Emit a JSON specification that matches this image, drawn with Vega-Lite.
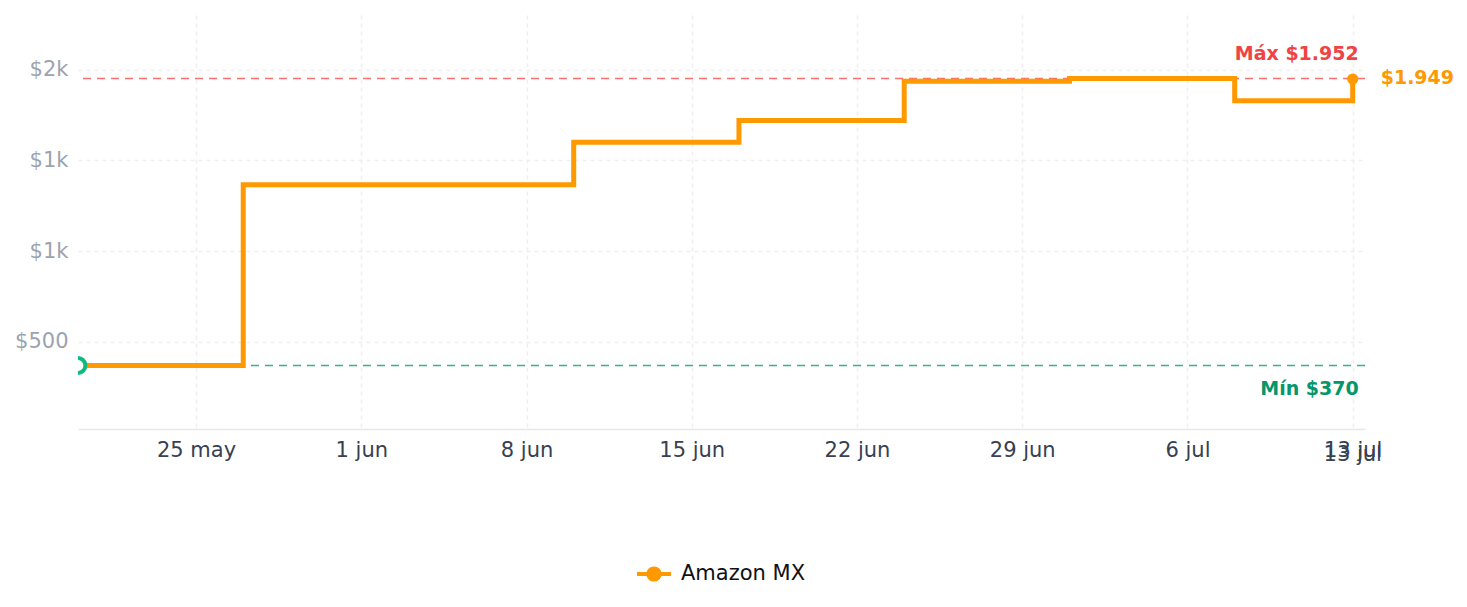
{
  "$schema": "https://vega.github.io/schema/vega-lite/v6.json",
  "width": 1287,
  "height": 414,
  "autosize": {"type": "none"},
  "padding": {"left": 78, "top": 15, "right": 102, "bottom": 178},
  "config": {
    "font": "DejaVu Sans",
    "view": {"stroke": null},
    "axisX": {
      "grid": true, "gridDash": [4, 4], "gridColor": "#efefef", "gridWidth": 1.5,
      "domainColor": "#e5e7eb", "domainWidth": 1.5, "ticks": false,
      "labelColor": "#374151", "labelFontSize": 21, "labelPadding": 10, "title": null
    },
    "axisY": {
      "grid": true, "gridDash": [4, 4], "gridColor": "#efefef", "gridWidth": 1.5,
      "domain": false, "ticks": false,
      "labelColor": "#9ca3af", "labelFontSize": 21, "labelPadding": 10, "title": null
    },
    "legend": {
      "orient": "none", "legendX": 557, "legendY": 540, "direction": "horizontal",
      "labelFontSize": 21, "labelColor": "#111111", "title": null,
      "symbolSize": 1156, "symbolStrokeWidth": 4,
      "symbolType": "M-1,0H1M-0.33,0A0.33,0.33,0,1,0,0.33,0A0.33,0.33,0,1,0,-0.33,0Z",
      "symbolFillColor": "#ff9900", "symbolStrokeColor": "#ff9900", "labelOffset": 8
    }
  },
  "layer": [
    {
      "data": {"values": [{"price": 370}]},
      "mark": {"type": "rule", "color": "#34b38a", "strokeDash": [8, 6], "strokeWidth": 1.5},
      "encoding": {
        "y": {"field": "price", "type": "quantitative", "scale": {"domain": [20, 2302], "nice": false, "zero": false}, "axis": {"values": [500, 1000, 1500, 2000], "labelExpr": "datum.value >= 1000 ? '$' + floor(datum.value / 1000) + 'k' : '$' + datum.value"}}
      }
    },
    {
      "data": {"values": [{"price": 1952}]},
      "mark": {"type": "rule", "color": "#f87171", "strokeDash": [8, 6], "strokeWidth": 1.5},
      "encoding": {
        "y": {"field": "price", "type": "quantitative", "scale": {"domain": [20, 2302], "nice": false, "zero": false}}
      }
    },
    {
      "data": {"values": [
        {"date": "2025-05-20", "price": 370, "store": "Amazon MX"},
        {"date": "2025-05-27", "price": 1366, "store": "Amazon MX"},
        {"date": "2025-06-10", "price": 1600, "store": "Amazon MX"},
        {"date": "2025-06-17", "price": 1721, "store": "Amazon MX"},
        {"date": "2025-06-24", "price": 1937, "store": "Amazon MX"},
        {"date": "2025-07-01", "price": 1952, "store": "Amazon MX"},
        {"date": "2025-07-08", "price": 1830, "store": "Amazon MX"},
        {"date": "2025-07-13", "price": 1949, "store": "Amazon MX"}
      ]},
      "mark": {"type": "line", "interpolate": "step-after", "strokeWidth": 5},
      "encoding": {
        "x": {"field": "date", "type": "temporal", "scale": {"type": "utc", "domain": ["2025-05-20T00:00:00Z", "2025-07-13T12:30:00Z"], "nice": false},
          "axis": {"tickCount": {"interval": "week", "step": 1}, "labelExpr": "utcdate(datum.value) + ' ' + ['ene','feb','mar','abr','may','jun','jul','ago','sep','oct','nov','dic'][utcmonth(datum.value)]"}},
        "y": {"field": "price", "type": "quantitative", "scale": {"domain": [20, 2302], "nice": false, "zero": false}},
        "color": {"field": "store", "type": "nominal", "scale": {"domain": ["Amazon MX"], "range": ["#ff9900"]}}
      }
    },
    {
      "data": {"values": [{"date": "2025-05-20", "price": 370}]},
      "mark": {"type": "point", "filled": true, "fill": "#ffffff", "stroke": "#10b981", "strokeWidth": 4, "size": 220, "opacity": 1, "clip": true},
      "encoding": {
        "x": {"field": "date", "type": "temporal", "scale": {"type": "utc", "domain": ["2025-05-20T00:00:00Z", "2025-07-13T12:30:00Z"], "nice": false}},
        "y": {"field": "price", "type": "quantitative", "scale": {"domain": [20, 2302], "nice": false, "zero": false}}
      }
    },
    {
      "data": {"values": [{"date": "2025-07-13", "price": 1949}]},
      "mark": {"type": "circle", "color": "#ff9900", "size": 125, "opacity": 1},
      "encoding": {
        "x": {"field": "date", "type": "temporal", "scale": {"type": "utc", "domain": ["2025-05-20T00:00:00Z", "2025-07-13T12:30:00Z"], "nice": false}},
        "y": {"field": "price", "type": "quantitative", "scale": {"domain": [20, 2302], "nice": false, "zero": false}}
      }
    },
    {
      "data": {"values": [
        {"date": "2025-07-13", "price": 1952, "label": "Máx $1.952"}
      ]},
      "mark": {"type": "text", "align": "right", "baseline": "alphabetic", "dx": 6, "dy": -18, "fontSize": 19, "fontWeight": "bold", "color": "#ef4444"},
      "encoding": {
        "x": {"field": "date", "type": "temporal", "scale": {"type": "utc", "domain": ["2025-05-20T00:00:00Z", "2025-07-13T12:30:00Z"], "nice": false}},
        "y": {"field": "price", "type": "quantitative", "scale": {"domain": [20, 2302], "nice": false, "zero": false}},
        "text": {"field": "label"}
      }
    },
    {
      "data": {"values": [
        {"date": "2025-07-13", "price": 370, "label": "Mín $370"}
      ]},
      "mark": {"type": "text", "align": "right", "baseline": "alphabetic", "dx": 6, "dy": 29, "fontSize": 19, "fontWeight": "bold", "color": "#059669"},
      "encoding": {
        "x": {"field": "date", "type": "temporal", "scale": {"type": "utc", "domain": ["2025-05-20T00:00:00Z", "2025-07-13T12:30:00Z"], "nice": false}},
        "y": {"field": "price", "type": "quantitative", "scale": {"domain": [20, 2302], "nice": false, "zero": false}},
        "text": {"field": "label"}
      }
    },
    {
      "data": {"values": [
        {"date": "2025-07-13", "price": 1949, "label": "$1.949"}
      ]},
      "mark": {"type": "text", "align": "left", "baseline": "alphabetic", "dx": 28, "dy": 5, "fontSize": 19, "fontWeight": "bold", "color": "#ff9900"},
      "encoding": {
        "x": {"field": "date", "type": "temporal", "scale": {"type": "utc", "domain": ["2025-05-20T00:00:00Z", "2025-07-13T12:30:00Z"], "nice": false}},
        "y": {"field": "price", "type": "quantitative", "scale": {"domain": [20, 2302], "nice": false, "zero": false}},
        "text": {"field": "label"}
      }
    },
    {
      "data": {"values": [
        {"date": "2025-07-13", "price": 20, "label": "13 jul"}
      ]},
      "mark": {"type": "text", "align": "center", "baseline": "alphabetic", "dx": 0, "dy": 32, "fontSize": 21, "color": "#374151"},
      "encoding": {
        "x": {"field": "date", "type": "temporal", "scale": {"type": "utc", "domain": ["2025-05-20T00:00:00Z", "2025-07-13T12:30:00Z"], "nice": false}},
        "y": {"field": "price", "type": "quantitative", "scale": {"domain": [20, 2302], "nice": false, "zero": false}},
        "text": {"field": "label"}
      }
    }
  ]
}
